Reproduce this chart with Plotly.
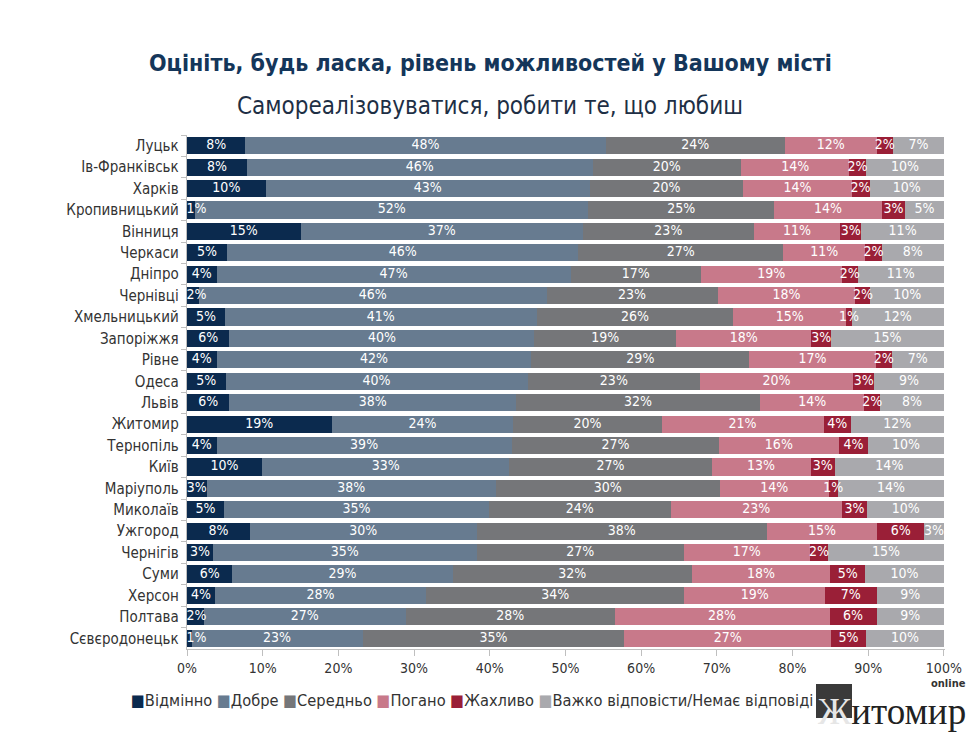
import plotly.graph_objects as go

cities = ["Луцьк", "Ів-Франківськ", "Харків", "Кропивницький", "Вінниця", "Черкаси",
          "Дніпро", "Чернівці", "Хмельницький", "Запоріжжя", "Рівне", "Одеса", "Львів",
          "Житомир", "Тернопіль", "Київ", "Маріуполь", "Миколаїв", "Ужгород", "Чернігів",
          "Суми", "Херсон", "Полтава", "Сєвєродонецьк"]

vidminno = [7.7, 7.9, 10.4, 1.1, 15.0, 5.3, 3.9, 1.6, 5.0, 5.6, 3.9, 5.1, 5.6,
            19.1, 3.9, 9.9, 2.6, 4.9, 8.3, 3.4, 6.0, 3.7, 2.2, 0.6]
dobre = [47.6, 45.7, 42.8, 51.9, 37.3, 46.4, 46.8, 45.9, 41.2, 40.3, 41.6, 39.9, 37.9,
         24.0, 39.0, 32.7, 38.2, 35.0, 30.0, 34.9, 29.1, 27.9, 26.7, 22.6]
serednio = [23.7, 19.6, 20.3, 24.6, 22.6, 27.1, 17.2, 22.6, 26.0, 18.7, 28.8, 22.8, 32.2,
            19.6, 27.4, 26.7, 29.6, 24.0, 38.3, 27.3, 31.6, 34.1, 27.6, 34.6]
pohano = [12.1, 14.3, 14.3, 14.2, 11.4, 10.8, 18.6, 18.2, 14.9, 17.9, 16.7, 20.2, 13.8,
          21.4, 15.8, 13.1, 14.4, 22.6, 14.6, 16.7, 18.3, 18.6, 28.4, 27.3]
zhakhlyvo = [2.2, 2.2, 2.4, 3.1, 2.8, 2.2, 2.1, 2.0, 0.7, 2.6, 2.1, 2.8, 2.1,
             3.6, 3.9, 3.2, 1.2, 3.4, 6.2, 2.4, 4.6, 6.8, 6.2, 4.6]
vazhko = [6.7, 10.3, 9.8, 5.1, 10.9, 8.2, 11.4, 9.7, 12.2, 14.9, 6.9, 9.2, 8.4,
          12.3, 10.0, 14.4, 14.0, 10.1, 2.6, 15.3, 10.4, 8.9, 8.9, 10.3]

series_names = ["Відмінно", "Добре", "Середньо", "Погано", "Жахливо",
                "Важко відповісти/Немає відповіді"]
series_values = [vidminno, dobre, serednio, pohano, zhakhlyvo, vazhko]
colors = ["#0b2a4e", "#677b90", "#757679", "#c8798a", "#9a1f37", "#a9a9ad"]

tick_vals = [0, 10, 20, 30, 40, 50, 60, 70, 80, 90, 100]
tick_text = ["0%", "10%", "20%", "30%", "40%", "50%", "60%", "70%", "80%", "90%", "100%"]

title_text = "Оцініть, будь ласка, рівень можливостей у Вашому місті"
subtitle_text = "Самореалізовуватися, робити те, що любиш"

FONT = "DejaVu Sans Condensed"
OFF = 8  # the page body has an 8px margin; layout coords are reference coords minus this
W, H = 976 - OFF, 732 - OFF
ML, MR, MT, MB = 187 - OFF, 31, 135 - OFF, 83
PW, PH = W - ML - MR, H - MT - MB
LABEL_HALF = 1.25  # half a label's width in axis units: labels never start left of the axis


def px(x):
    return (x - OFF - ML) / PW


def py(y):
    return 1 + (MT - (y - OFF)) / PH


fig = go.Figure()
# stacked bars
for name, vals, col in zip(series_names, series_values, colors):
    fig.add_trace(go.Bar(
        y=cities, x=vals, name=name, orientation="h",
        marker=dict(color=col, line=dict(width=0)),
        showlegend=False, hoverinfo="name+x",
    ))

# value labels drawn on top of all bars, centred on each segment
base = [0.0] * len(cities)
for name, vals in zip(series_names, series_values):
    mids = [max(b + v / 2, LABEL_HALF) for b, v in zip(base, vals)]
    fig.add_trace(go.Scatter(
        y=cities, x=mids, mode="text", text=[f"{v:.0f}%" for v in vals],
        textposition="middle center",
        textfont=dict(color="white", size=14, family=FONT),
        cliponaxis=False, showlegend=False, hoverinfo="skip",
    ))
    base = [b + v for b, v in zip(base, vals)]

legend_html = "&nbsp;".join(
    f"<span style='color:{c}'>■</span>{n}" for n, c in zip(series_names, colors)
)

fig.update_layout(
    barmode="stack",
    bargap=0.2,
    width=W, height=H,
    margin=dict(l=ML, r=MR, t=MT, b=MB, autoexpand=False),
    paper_bgcolor="white", plot_bgcolor="white",
    font=dict(family=FONT, color="#333333"),
    showlegend=False,
    annotations=[
        dict(text=f"<b>{title_text}</b>", x=px(490), y=py(48), xref="paper", yref="paper",
             showarrow=False, font=dict(size=23, color="#14365a", family=FONT)),
        dict(text=subtitle_text, x=px(490), y=py(90), xref="paper", yref="paper",
             showarrow=False, font=dict(size=24, color="#1e2f45", family=FONT)),
        dict(text=legend_html, x=px(129), y=py(700), xref="paper", yref="paper",
             xanchor="left", yanchor="middle", showarrow=False,
             font=dict(size=16.3, color="#333333", family=FONT)),
        dict(text="<span style='color:#e6e6e6'>Ж</span>итомир", x=px(968), y=py(711),
             xref="paper", yref="paper", xanchor="right", yanchor="middle", showarrow=False,
             font=dict(size=37, color="#222222", family="Liberation Serif")),
        dict(text="<b>online</b>", x=px(968), y=py(683), xref="paper", yref="paper",
             xanchor="right", yanchor="middle", showarrow=False,
             font=dict(size=11, color="#333333", family=FONT)),
    ],
    shapes=[
        dict(type="rect", xref="paper", yref="paper", x0=px(816), x1=px(852),
             y0=py(718), y1=py(684), fillcolor="#3a3a3a", line=dict(width=0), layer="below"),
    ],
)

fig.update_xaxes(range=[0, 100.15], tickvals=tick_vals, ticktext=tick_text,
                 showgrid=False, zeroline=False, showline=True, linecolor="#bfbfbf",
                 ticks="outside", ticklen=6, tickcolor="#bfbfbf", automargin=False,
                 tickfont=dict(size=14, color="#333333", family=FONT))
fig.update_yaxes(range=[len(cities) - 0.5, -0.5], autorange=False,
                 showgrid=False, showline=True, linecolor="#bfbfbf",
                 ticks="outside", ticklen=5, tickcolor="#bfbfbf", tickson="boundaries",
                 automargin=False,
                 tickfont=dict(size=15, color="#333333", family=FONT), ticksuffix=" ")

fig.write_html("out.html")
